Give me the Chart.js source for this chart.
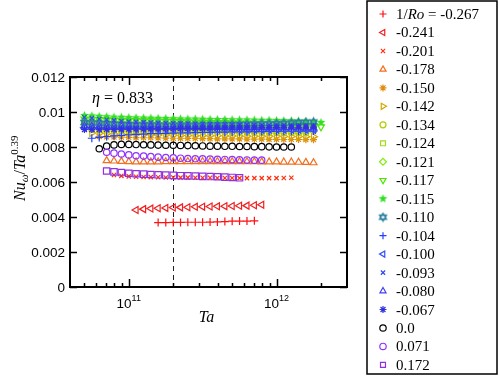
<!DOCTYPE html>
<html>
<head>
<meta charset="utf-8">
<script src="https://cdn.jsdelivr.net/npm/chart.js@4/dist/chart.umd.min.js"></script>
<style>
  html, body { margin: 0; padding: 0; background: #fff; }
  #wrap { width: 499px; height: 376px; }
</style>
</head>
<body>
<div id="wrap"><canvas id="chart" width="499" height="376"></canvas></div>
<script>
// Ta values of the sampled runs (shared grid)
const ta = [5.01e10, 5.62e10, 6.31e10, 7.08e10, 7.94e10, 8.91e10, 1.00e11, 1.12e11, 1.26e11, 1.41e11,
            1.58e11, 1.78e11, 2.00e11, 2.24e11, 2.51e11, 2.82e11, 3.16e11, 3.55e11, 3.98e11, 4.47e11,
            5.01e11, 5.62e11, 6.31e11, 7.08e11, 7.94e11, 8.91e11, 1.00e12, 1.12e12, 1.26e12, 1.41e12,
            1.58e12, 1.78e12, 2.00e12];

// 1/Ro of each series (legend)
const roLabels = ['-0.267', '-0.241', '-0.201', '-0.178', '-0.150', '-0.142', '-0.134', '-0.124', '-0.121', '-0.117',
                  '-0.115', '-0.110', '-0.104', '-0.100', '-0.093', '-0.080', '-0.067', '0.0', '0.071', '0.172'];

// index into ta where each series begins
const firstIdx = [10, 7, 4, 3, 2, 1, 1, 0, 0, 0, 0, 0, 1, 0, 0, 0, 0, 2, 3, 3];

// Nu_w / Ta^0.39 per series
const nuM267 = [0.00368, 0.00368, 0.00369, 0.00369, 0.0037, 0.0037, 0.0037, 0.00371, 0.00372, 0.00374, 0.00376, 0.00377, 0.00377, 0.00378];
const nuM241 = [0.0044, 0.00445, 0.00448, 0.0045, 0.00452, 0.00454, 0.00455, 0.00456, 0.00458, 0.00459, 0.0046, 0.00461, 0.00462, 0.00463, 0.00464, 0.00465, 0.00467, 0.0047];
const nuM201 = [0.0064, 0.00635, 0.00632, 0.0063, 0.00629, 0.00628, 0.00627, 0.00626, 0.00626, 0.00625, 0.00625, 0.00624, 0.00624, 0.00624, 0.00623, 0.00623, 0.00623, 0.00622, 0.00622, 0.00622, 0.00622, 0.00622, 0.00622, 0.00623, 0.00624];
const nuM178 = [0.00722, 0.0072, 0.00718, 0.00716, 0.00715, 0.00715, 0.00715, 0.00715, 0.00716, 0.00716, 0.00716, 0.00717, 0.00717, 0.00717, 0.00717, 0.00717, 0.00717, 0.00716, 0.00716, 0.00716, 0.00716, 0.00715, 0.00715, 0.00715, 0.00714, 0.00714, 0.00713, 0.00712, 0.0071];
const nuM150 = [0.0086, 0.00858, 0.00857, 0.00856, 0.00855, 0.00854, 0.00853, 0.00853, 0.00852, 0.00851, 0.0085, 0.0085, 0.00849, 0.00849, 0.00848, 0.00848, 0.00847, 0.00847, 0.00846, 0.00846, 0.00845, 0.00845, 0.00845, 0.00844, 0.00844, 0.00843, 0.00843, 0.00843, 0.00842, 0.00842];
const nuM142 = [0.0088, 0.00878, 0.00876, 0.00874, 0.00873, 0.00872, 0.00871, 0.0087, 0.00869, 0.00868, 0.00868, 0.00867, 0.00866, 0.00866, 0.00865, 0.00865, 0.00864, 0.00864, 0.00863, 0.00863, 0.00862, 0.00862, 0.00862, 0.00861, 0.00861, 0.00861, 0.0086, 0.0086, 0.0086, 0.00859, 0.00859];
const nuM134 = [0.009, 0.00898, 0.00896, 0.00895, 0.00894, 0.00893, 0.00892, 0.00891, 0.0089, 0.0089, 0.00889, 0.00889, 0.00888, 0.00888, 0.00887, 0.00887, 0.00886, 0.00886, 0.00886, 0.00885, 0.00885, 0.00885, 0.00884, 0.00884, 0.00884, 0.00883, 0.00883, 0.00883, 0.00882, 0.00882];
const nuM124 = [0.0093, 0.00928, 0.00926, 0.00924, 0.00922, 0.0092, 0.00919, 0.00918, 0.00917, 0.00916, 0.00915, 0.00914, 0.00913, 0.00912, 0.00911, 0.0091, 0.0091, 0.00909, 0.00908, 0.00907, 0.00907, 0.00906, 0.00905, 0.00905, 0.00904, 0.00904, 0.00903, 0.00903, 0.00902, 0.00902, 0.00901, 0.009];
const nuM121 = [0.0095, 0.00948, 0.00946, 0.00944, 0.00942, 0.0094, 0.00939, 0.00938, 0.00937, 0.00936, 0.00935, 0.00934, 0.00933, 0.00932, 0.00931, 0.0093, 0.0093, 0.00929, 0.00928, 0.00927, 0.00927, 0.00926, 0.00925, 0.00925, 0.00924, 0.00924, 0.00923, 0.00923, 0.00922, 0.00922, 0.00921, 0.0092];
const nuM117 = [0.0096, 0.00958, 0.00956, 0.00955, 0.00954, 0.00953, 0.00952, 0.00951, 0.0095, 0.00949, 0.00948, 0.00947, 0.00946, 0.00945, 0.00944, 0.00943, 0.00942, 0.00941, 0.0094, 0.00939, 0.00938, 0.00937, 0.00936, 0.00935, 0.00934, 0.00933, 0.00932, 0.00931, 0.0093, 0.00928, 0.00925, 0.00922, 0.00915];
const nuM115 = [0.0098, 0.00978, 0.00975, 0.00973, 0.00971, 0.0097, 0.00968, 0.00967, 0.00966, 0.00965, 0.00964, 0.00963, 0.00962, 0.00961, 0.0096, 0.0096, 0.00959, 0.00958, 0.00957, 0.00957, 0.00956, 0.00955, 0.00955, 0.00954, 0.00953, 0.00953, 0.00952, 0.00951, 0.0095, 0.00949, 0.00947, 0.00944, 0.0094];
const nuM110 = [0.0094, 0.00938, 0.00936, 0.00934, 0.00932, 0.0093, 0.00929, 0.00928, 0.00928, 0.00927, 0.00927, 0.00926, 0.00926, 0.00926, 0.00926, 0.00926, 0.00926, 0.00927, 0.00927, 0.00928, 0.00928, 0.00929, 0.0093, 0.00931, 0.00932, 0.00933, 0.00934, 0.00936, 0.00938, 0.0094, 0.00942, 0.00943];
const nuM104 = [0.0085, 0.00855, 0.0086, 0.00864, 0.00867, 0.0087, 0.00872, 0.00874, 0.00876, 0.00877, 0.00878, 0.00879, 0.0088, 0.00881, 0.00882, 0.00883, 0.00884, 0.00885, 0.00885, 0.00886, 0.00887, 0.00887, 0.00888, 0.00888, 0.00889, 0.00889, 0.0089, 0.0089, 0.0089, 0.00891, 0.00891];
const nuM100 = [0.0091, 0.00909, 0.00908, 0.00907, 0.00906, 0.00905, 0.00905, 0.00904, 0.00904, 0.00903, 0.00903, 0.00902, 0.00902, 0.00902, 0.00901, 0.00901, 0.00901, 0.009, 0.009, 0.009, 0.009, 0.00899, 0.00899, 0.00899, 0.00899, 0.00899, 0.00898, 0.00898, 0.00898, 0.00898, 0.00898, 0.00897];
const nuM093 = [0.0097, 0.00965, 0.0096, 0.00956, 0.00952, 0.00949, 0.00946, 0.00944, 0.00942, 0.0094, 0.00938, 0.00937, 0.00936, 0.00935, 0.00934, 0.00933, 0.00932, 0.00931, 0.0093, 0.0093, 0.00929, 0.00928, 0.00928, 0.00927, 0.00926, 0.00926, 0.00925, 0.00925, 0.00924, 0.00924, 0.00923, 0.00923];
const nuM080 = [0.0092, 0.00919, 0.00918, 0.00918, 0.00917, 0.00917, 0.00916, 0.00916, 0.00915, 0.00915, 0.00914, 0.00914, 0.00914, 0.00913, 0.00913, 0.00913, 0.00912, 0.00912, 0.00912, 0.00912, 0.00911, 0.00911, 0.00911, 0.00911, 0.0091, 0.0091, 0.0091, 0.0091, 0.0091, 0.00909, 0.00909, 0.00909];
const nuM067 = [0.009, 0.009, 0.009, 0.00901, 0.00901, 0.00902, 0.00902, 0.00903, 0.00903, 0.00904, 0.00904, 0.00905, 0.00905, 0.00906, 0.00906, 0.00907, 0.00907, 0.00908, 0.00908, 0.00909, 0.00909, 0.0091, 0.0091, 0.0091, 0.00911, 0.00911, 0.00912, 0.00912, 0.00913, 0.00913, 0.00914, 0.00914];
const nuP000 = [0.0079, 0.00805, 0.00812, 0.00815, 0.00815, 0.00814, 0.00813, 0.00812, 0.00811, 0.0081, 0.0081, 0.00809, 0.00808, 0.00807, 0.00806, 0.00805, 0.00805, 0.00804, 0.00804, 0.00803, 0.00803, 0.00802, 0.00802, 0.00801, 0.008, 0.008, 0.008];
const nuP071 = [0.0077, 0.00765, 0.0076, 0.00755, 0.0075, 0.00748, 0.00745, 0.00742, 0.0074, 0.00738, 0.00736, 0.00734, 0.00733, 0.00732, 0.00731, 0.0073, 0.00729, 0.00728, 0.00727, 0.00726, 0.00725, 0.00725];
const nuP172 = [0.00663, 0.00658, 0.00654, 0.0065, 0.00647, 0.00645, 0.00643, 0.00641, 0.0064, 0.00638, 0.00636, 0.00635, 0.00634, 0.00632, 0.00631, 0.0063, 0.00628, 0.00626, 0.00624];

const nuSeries = [nuM267, nuM241, nuM201, nuM178, nuM150, nuM142, nuM134, nuM124, nuM121, nuM117,
                  nuM115, nuM110, nuM104, nuM100, nuM093, nuM080, nuM067, nuP000, nuP071, nuP172];

// axis ticks
const yTicks = [0, 0.002, 0.004, 0.006, 0.008, 0.01, 0.012];
const yTickLabels = ['0', '0.002', '0.004', '0.006', '0.008', '0.01', '0.012'];
const xMajor = [1e11, 1e12];
const xMajorExp = ['11', '12'];
const xMinor = [5e10, 6e10, 7e10, 8e10, 9e10, 2e11, 3e11, 4e11, 5e11, 6e11, 7e11, 8e11, 9e11, 2e12];
const taMark = 2e11;

// marker styles
const colors = ['#ff1010', '#f02020', '#ff3010', '#f07020', '#e08c10', '#d4a800', '#b4cc00', '#a0dc20', '#80ee10', '#50e400',
                '#30e020', '#2a80a0', '#2040ff', '#3050ff', '#3048f0', '#4040f0', '#3030e0', '#000000', '#9030ff', '#9030e0'];

function starCanvas(color, r) {
  const c = document.createElement('canvas');
  const s = Math.ceil(2 * r + 2);
  c.width = s; c.height = s;
  const g = c.getContext('2d');
  g.beginPath();
  for (let k = 0; k < 10; k++) {
    const rr = k % 2 === 0 ? r : r * 0.45;
    const a = -Math.PI / 2 + k * Math.PI / 5;
    const px = s / 2 + rr * Math.cos(a), py = s / 2 + rr * Math.sin(a);
    if (k === 0) g.moveTo(px, py); else g.lineTo(px, py);
  }
  g.closePath();
  g.fillStyle = color;
  g.fill();
  return c;
}

function hexCanvas(color, r) {
  const c = document.createElement('canvas');
  const s = Math.ceil(2 * r + 3);
  c.width = s; c.height = s;
  const g = c.getContext('2d');
  g.strokeStyle = color;
  g.lineWidth = 1.3;
  [-Math.PI / 2, Math.PI / 2].forEach(a0 => {
    g.beginPath();
    for (let k = 0; k < 3; k++) {
      const a = a0 + k * 2 * Math.PI / 3;
      const px = s / 2 + r * Math.cos(a), py = s / 2 + r * Math.sin(a);
      if (k === 0) g.moveTo(px, py); else g.lineTo(px, py);
    }
    g.closePath();
    g.stroke();
  });
  return c;
}

const pointStyles = ['cross', 'triangle', 'crossRot', 'triangle', 'star', 'triangle', 'circle', 'rect', 'rectRot', 'triangle',
                     starCanvas(colors[10], 4.5), hexCanvas(colors[11], 4), 'cross', 'triangle', 'crossRot', 'triangle', 'star', 'circle', 'circle', 'rect'];
const rotations = [0, -90, 0, 0, 0, 90, 0, 0, 0, 180, 0, 0, 0, -90, 0, 0, 0, 0, 0, 0];
const radii = [4, 4, 3, 4, 3.5, 4, 3, 4.2, 3.5, 4, 4.5, 4, 4, 4, 3, 4, 3.5, 3.2, 3.2, 4.5];

const datasets = nuSeries.map((vals, i) => ({
  label: roLabels[i],
  data: vals.map((v, k) => ({ x: ta[firstIdx[i] + k], y: v })),
  showLine: false,
  pointStyle: pointStyles[i],
  rotation: rotations[i],
  pointRadius: radii[i],
  pointBorderWidth: 1.2,
  borderColor: colors[i],
  backgroundColor: 'rgba(0,0,0,0)',
  order: 20 - i
}));

const SERIF = '"Liberation Serif", "DejaVu Serif", serif';
const SANS = '"Liberation Sans", Arial, sans-serif';

// draw a row of text pieces with their own fonts and vertical shifts
function drawRuns(ctx, runs, x, y) {
  let cx = x;
  runs.forEach(r => {
    ctx.font = r.font;
    ctx.fillText(r.t, cx, y + (r.dy || 0));
    cx += ctx.measureText(r.t).width;
  });
  return cx - x;
}

const decorPlugin = {
  id: 'decor',
  beforeDatasetsDraw(chart) {
    const { ctx, chartArea: a, scales } = chart;
    const px = scales.x.getPixelForValue(taMark);
    ctx.save();
    ctx.strokeStyle = '#222';
    ctx.lineWidth = 1;
    ctx.setLineDash([5, 4]);
    ctx.beginPath();
    ctx.moveTo(Math.round(px) + 0.5, a.top);
    ctx.lineTo(Math.round(px) + 0.5, a.bottom);
    ctx.stroke();
    ctx.restore();
  },
  afterDraw(chart) {
    const { ctx, chartArea: a, scales } = chart;
    ctx.save();
    ctx.strokeStyle = '#000';
    ctx.fillStyle = '#000';

    // ticks, inward on all four sides
    ctx.lineWidth = 1.5;
    ctx.beginPath();
    yTicks.forEach(v => {
      const py = Math.round(scales.y.getPixelForValue(v)) + 0.5;
      ctx.moveTo(a.left, py); ctx.lineTo(a.left + 7, py);
      ctx.moveTo(a.right, py); ctx.lineTo(a.right - 7, py);
    });
    xMajor.forEach(v => {
      const px = Math.round(scales.x.getPixelForValue(v)) + 0.5;
      ctx.moveTo(px, a.bottom); ctx.lineTo(px, a.bottom - 8);
      ctx.moveTo(px, a.top); ctx.lineTo(px, a.top + 8);
    });
    xMinor.forEach(v => {
      const px = Math.round(scales.x.getPixelForValue(v)) + 0.5;
      ctx.moveTo(px, a.bottom); ctx.lineTo(px, a.bottom - 4);
      ctx.moveTo(px, a.top); ctx.lineTo(px, a.top + 4);
    });
    ctx.stroke();

    // frame
    ctx.lineWidth = 2;
    ctx.strokeRect(a.left, a.top, a.right - a.left, a.bottom - a.top);

    // y tick labels
    ctx.font = '13.5px ' + SANS;
    ctx.textAlign = 'right';
    ctx.textBaseline = 'middle';
    yTicks.forEach((v, i) => {
      ctx.fillText(yTickLabels[i], a.left - 5, scales.y.getPixelForValue(v) + 1);
    });

    // x tick labels 10^n
    ctx.textAlign = 'left';
    ctx.textBaseline = 'alphabetic';
    xMajor.forEach((v, i) => {
      const px = scales.x.getPixelForValue(v);
      ctx.font = '13.5px ' + SANS;
      const w1 = ctx.measureText('10').width;
      ctx.font = '9px ' + SANS;
      const w2 = ctx.measureText(xMajorExp[i]).width;
      const x0 = px - (w1 + w2) / 2;
      drawRuns(ctx, [
        { t: '10', font: '13.5px ' + SANS },
        { t: xMajorExp[i], font: '9px ' + SANS, dy: -7 }
      ], x0, a.bottom + 21);
    });

    // axis titles
    ctx.font = 'italic 16px ' + SERIF;
    ctx.textAlign = 'center';
    ctx.fillText('Ta', (a.left + a.right) / 2 - 2, a.bottom + 35);
    ctx.textAlign = 'left';

    ctx.save();
    ctx.translate(25, 201);
    ctx.rotate(-Math.PI / 2);
    drawRuns(ctx, [
      { t: 'Nu', font: 'italic 16px ' + SERIF },
      { t: 'ω', font: 'italic 11px ' + SERIF, dy: 3 },
      { t: '/', font: '16px ' + SERIF },
      { t: 'Ta', font: 'italic 16px ' + SERIF },
      { t: '0.39', font: '11px ' + SERIF, dy: -7 }
    ], 0, 0);
    ctx.restore();

    // annotation
    drawRuns(ctx, [
      { t: 'η', font: 'italic 16px ' + SERIF },
      { t: ' = 0.833', font: '16px ' + SERIF }
    ], 92, 103);

    // legend
    ctx.lineWidth = 1.5;
    ctx.strokeRect(367, 1, 130, 373);
    const drawPoint = Chart.helpers && Chart.helpers.drawPoint;
    chart.data.datasets.forEach((ds, i) => {
      const cy = 14 + 18.47 * i;
      ctx.save();
      ctx.strokeStyle = ds.borderColor;
      ctx.fillStyle = ds.backgroundColor;
      ctx.lineWidth = 1.2;
      if (drawPoint) {
        drawPoint(ctx, { pointStyle: ds.pointStyle, rotation: ds.rotation, radius: Math.min(ds.pointRadius, 3.5), borderWidth: 1.2 }, 383, cy);
      }
      ctx.restore();
      ctx.fillStyle = '#000';
      if (i === 0) {
        drawRuns(ctx, [
          { t: '1/', font: '15px ' + SERIF },
          { t: 'Ro', font: 'italic 15px ' + SERIF },
          { t: ' = ' + roLabels[0], font: '15px ' + SERIF }
        ], 396, cy + 5);
      } else {
        drawRuns(ctx, [{ t: roLabels[i], font: '15px ' + SERIF }], 396, cy + 5);
      }
    });
    ctx.restore();
  }
};

new Chart(document.getElementById('chart'), {
  type: 'scatter',
  data: { datasets: datasets },
  options: {
    responsive: false,
    animation: false,
    layout: { padding: { left: 70, right: 152, top: 77, bottom: 89 } },
    plugins: { legend: { display: false }, tooltip: { enabled: false } },
    scales: {
      x: { type: 'logarithmic', min: 4e10, max: 3e12, display: false },
      y: { type: 'linear', min: 0, max: 0.012, display: false }
    }
  },
  plugins: [decorPlugin]
});
</script>
</body>
</html>
